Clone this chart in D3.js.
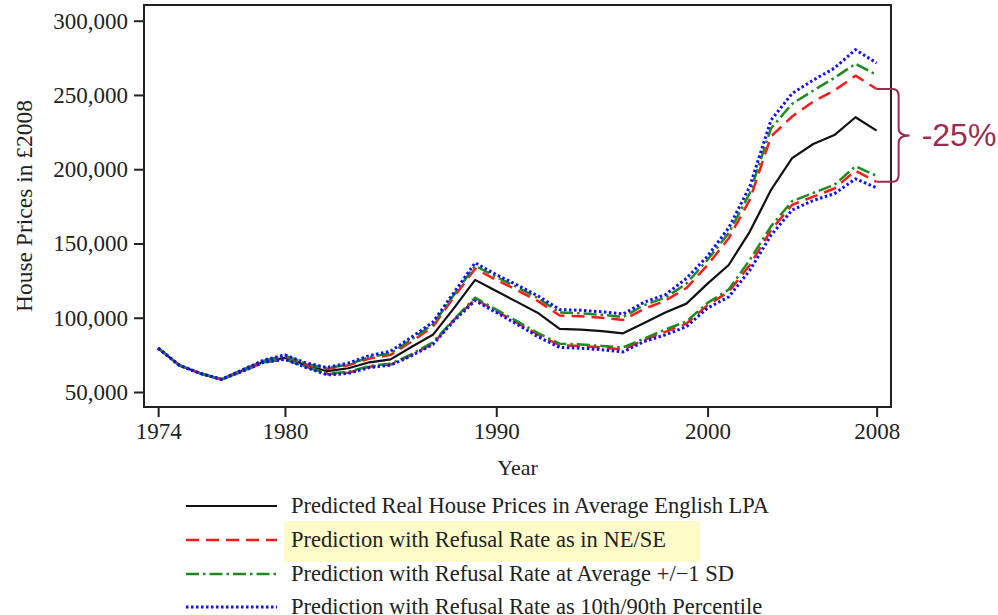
<!DOCTYPE html>
<html>
<head>
<meta charset="utf-8">
<script src="https://cdn.jsdelivr.net/npm/d3@7"></script>
<style>
  body { margin: 0; background: #fff; }
  text { font-family: "Liberation Serif", "Times New Roman", serif; fill: #222; }
</style>
</head>
<body>
<script>
// data (house prices in £2008)
var years = [1974, 1975, 1976, 1977, 1978, 1979, 1980, 1981, 1982, 1983, 1984, 1985, 1986, 1987, 1988, 1989, 1990,
  1991, 1992, 1993, 1994, 1995, 1996, 1997, 1998, 1999, 2000, 2001, 2002, 2003, 2004, 2005, 2006, 2007, 2008];

var predicted = [79500, 68000, 62500, 58500, 64500, 70500, 73000, 68000, 64000, 66000, 70000, 72000, 80500, 88500,
  106500, 125500, 118000, 110500, 103000, 92500, 92000, 91000, 89500, 96500, 103500, 109500, 123000, 135500, 158000,
  186000, 207500, 217000, 223000, 235000, 226000];

var neseHigh = [79500, 68000, 62500, 58500, 65000, 71000, 74000, 68500, 65500, 68000, 72500, 75000, 84000, 94000,
  114000, 133000, 125500, 118500, 111000, 101500, 101000, 100000, 98500, 106000, 111500, 120000, 135500, 153500,
  179500, 222000, 235500, 245500, 253000, 263000, 254000];
var neseLow = [79500, 68000, 62500, 58500, 64000, 70000, 72000, 67000, 62000, 63000, 67000, 68500, 75000, 82500,
  98500, 112500, 104500, 96500, 88500, 81500, 81000, 80000, 78500, 85000, 90500, 96000, 108500, 117500, 135500,
  159000, 176000, 181500, 187000, 199000, 191500];

var sdHigh = [79500, 68000, 62500, 58500, 65000, 71000, 74500, 69000, 66000, 68500, 73500, 76000, 85500, 95500,
  115500, 135000, 127500, 120500, 113000, 103500, 103000, 102000, 100500, 108500, 113500, 123000, 139000, 157000,
  184000, 227500, 244000, 253000, 261500, 271000, 263500];
var sdLow = [79500, 68000, 62500, 58500, 64000, 70000, 72000, 67000, 62500, 63500, 67500, 69000, 75500, 83500,
  99000, 113500, 105500, 97500, 89500, 82500, 82000, 81000, 80000, 86000, 92000, 97500, 110000, 119000, 139000,
  161500, 178500, 184000, 189500, 202000, 195500];

var pctHigh = [79500, 68000, 62500, 58500, 65000, 71500, 75000, 69500, 66500, 69500, 74500, 77500, 87000, 97000,
  117000, 137000, 129000, 122000, 114500, 105500, 105000, 104000, 102500, 110500, 115500, 126500, 141500, 160500,
  188500, 233000, 251000, 260000, 268000, 280500, 271500];
var pctLow = [79500, 68000, 62500, 58500, 64000, 70000, 72000, 66500, 61500, 62500, 66500, 68000, 74500, 82000,
  98000, 111500, 103500, 95500, 87000, 80000, 79500, 78500, 77000, 84000, 88500, 94000, 106500, 114000, 132000,
  155500, 172500, 179000, 183500, 193500, 187500];

var xTicks = [1974, 1980, 1990, 2000, 2008];
var yTicks = [50000, 100000, 150000, 200000, 250000, 300000];

var legendLabels = [
  "Predicted Real House Prices in Average English LPA",
  "Prediction with Refusal Rate as in NE/SE",
  "Prediction with Refusal Rate at Average +/\u22121 SD",
  "Prediction with Refusal Rate as 10th/90th Percentile"
];
var annotation = "-25%";

// line styles: solid / dashed / dash-dot / dotted
var styles = [
  { color: "#111", dash: null, width: 2.2 },
  { color: "#ff1a1a", dash: "13,7", width: 2.5 },
  { color: "#1f8a1f", dash: "13,4,2.5,4", width: 2.5 },
  { color: "#1010ff", dash: "2.5,2.5", width: 3 }
];

// drawn in this order, dotted blue ends up on top
var series = [
  { values: predicted, style: 0 },
  { values: neseHigh, style: 1 }, { values: neseLow, style: 1 },
  { values: sdHigh, style: 2 }, { values: sdLow, style: 2 },
  { values: pctHigh, style: 3 }, { values: pctLow, style: 3 }
];

var svg = d3.select("body").append("svg")
  .attr("width", 998)
  .attr("height", 615);

// plot frame edges ("top" is taken by window.top, so prefix them)
var pLeft = 144, pRight = 891, pTop = 5, pBottom = 407;

var x = d3.scaleLinear().domain([1973.33, 2008.68]).range([pLeft, pRight]);
var y = d3.scaleLinear().domain([39900, 310570]).range([pBottom, pTop]);

// axes
var gx = svg.append("g").attr("transform", "translate(0," + pBottom + ")")
  .call(d3.axisBottom(x).tickValues(xTicks).tickFormat(d3.format("d")).tickSize(10).tickPadding(6));
var gy = svg.append("g").attr("transform", "translate(" + pLeft + ",0)")
  .call(d3.axisLeft(y).tickValues(yTicks).tickFormat(d3.format(",")).tickSize(10).tickPadding(6));

[gx, gy].forEach(function(g) {
  g.select(".domain").remove();
  g.selectAll(".tick line").attr("stroke", "#222").attr("stroke-width", 2);
  g.selectAll(".tick text").attr("font-size", "23px").attr("fill", "#222")
    .style("font-family", "'Liberation Serif', 'Times New Roman', serif");
});

// lines
var line = d3.line()
  .x(function(d, i) { return x(years[i]); })
  .y(function(d) { return y(d); });

svg.append("g").attr("class", "lines").selectAll("path")
  .data(series)
  .enter()
  .append("path")
  .attr("d", function(d) { return line(d.values); })
  .attr("fill", "none")
  .attr("stroke", function(d) { return styles[d.style].color; })
  .attr("stroke-width", function(d) { return styles[d.style].width; })
  .attr("stroke-dasharray", function(d) { return styles[d.style].dash; })
  .attr("stroke-linejoin", "round");

// frame
svg.append("rect")
  .attr("x", pLeft).attr("y", pTop)
  .attr("width", pRight - pLeft).attr("height", pBottom - pTop)
  .attr("fill", "none").attr("stroke", "#222").attr("stroke-width", 2);

// axis titles
svg.append("text")
  .attr("x", (pLeft + pRight) / 2).attr("y", 475)
  .attr("text-anchor", "middle").attr("font-size", "22px")
  .text("Year");

svg.append("text")
  .attr("transform", "translate(32," + (pTop + pBottom) / 2 + ") rotate(-90)")
  .attr("text-anchor", "middle").attr("font-size", "23.5px")
  .text("House Prices in \u00a32008");

// legend
var legend = svg.append("g").attr("class", "legend");
var rowY = [506, 540, 574, 607];

legend.append("rect")
  .attr("x", 284).attr("y", rowY[1] - 19)
  .attr("width", 416).attr("height", 41)
  .attr("fill", "#fdfbc8");

var rows = legend.selectAll(".row")
  .data(legendLabels)
  .enter()
  .append("g")
  .attr("class", "row")
  .attr("transform", function(d, i) { return "translate(0," + rowY[i] + ")"; });

rows.append("line")
  .attr("x1", 186).attr("x2", 277)
  .attr("stroke", function(d, i) { return styles[i].color; })
  .attr("stroke-width", function(d, i) { return styles[i].width; })
  .attr("stroke-dasharray", function(d, i) { return styles[i].dash; });

rows.append("text")
  .attr("x", 291).attr("y", 7)
  .attr("font-size", "22.5px")
  .text(function(d) { return d; });

// -25% bracket between the NE/SE lines at 2008
var last = years.length - 1;
var bx = x(years[last]);
var b0 = y(neseHigh[last]), b1 = y(neseLow[last]), bm = (b0 + b1) / 2;
var bracket = d3.path();
bracket.moveTo(bx, b0);
bracket.lineTo(bx + 16, b0);
bracket.quadraticCurveTo(bx + 22, b0, bx + 22, b0 + 7);
bracket.lineTo(bx + 22, bm - 7);
bracket.quadraticCurveTo(bx + 22, bm, bx + 33, bm);
bracket.quadraticCurveTo(bx + 22, bm, bx + 22, bm + 7);
bracket.lineTo(bx + 22, b1 - 7);
bracket.quadraticCurveTo(bx + 22, b1, bx + 16, b1);
bracket.lineTo(bx, b1);

svg.append("path")
  .attr("d", bracket.toString())
  .attr("fill", "none")
  .attr("stroke", "#9c2b4e")
  .attr("stroke-width", 2);

svg.append("text")
  .attr("x", bx + 45).attr("y", bm + 11)
  .attr("font-size", "32px")
  .style("font-family", "'Liberation Sans', Arial, sans-serif")
  .style("fill", "#9c2b4e")
  .text(annotation);
</script>
</body>
</html>
